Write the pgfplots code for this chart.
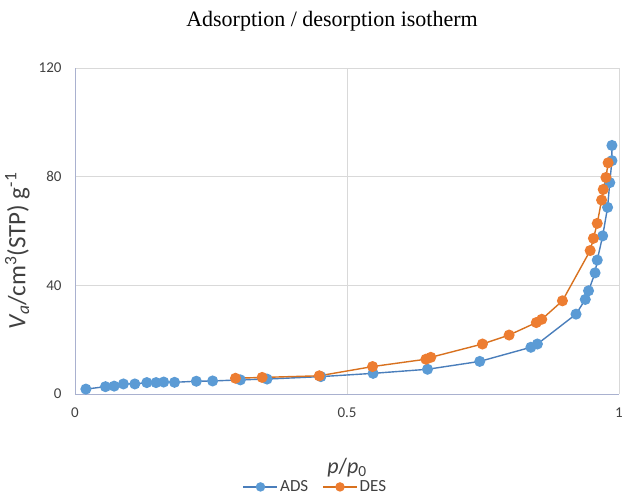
\documentclass[border=0pt]{standalone}
\usepackage{pgfplots}
\pgfplotsset{compat=1.18}
\usepackage{fontspec}
\setmainfont{Carlito}
\newfontfamily\titlefont{Liberation Serif}
\definecolor{adsblue}{HTML}{5B9BD5}
\definecolor{adsline}{HTML}{4A7EBB}
\definecolor{desorange}{HTML}{ED7D31}
\definecolor{desline}{HTML}{D8711F}
\definecolor{gridgray}{HTML}{D9D9D9}
\definecolor{axcol}{HTML}{A9B1CF}
\definecolor{txtgray}{HTML}{404040}
\begin{document}
\begin{tikzpicture}[x=1pt,y=1pt]
\path[use as bounding box] (0,0) rectangle (623,495);
\node[anchor=base, font=\titlefont\fontsize{22}{26}\selectfont] at (332,468) {Adsorption / desorption isotherm};
\begin{axis}[
  at={(75pt,101pt)}, anchor=south west,
  scale only axis, width=544pt, height=326pt,
  xmin=0, xmax=1, ymin=0, ymax=120,
  xtick={0,0.5,1}, ytick={0,40,80,120},
  xticklabels={0,0.5,1},
  grid=major, major grid style={gridgray, line width=0.9pt},
  axis x line*=bottom, axis y line*=left,
  x axis line style={-, axcol, line width=1pt},
  y axis line style={-, axcol, line width=1pt},
  major tick length=0pt,
  tick style={draw=none},
  /pgf/number format/assume math mode=true,
  tick label style={font=\fontsize{15}{18}\selectfont, text=txtgray},
  xticklabel style={yshift=-10pt},
  yticklabel style={xshift=-10pt},
  xlabel={\textit{p}/\textit{p}\textsubscript{0}},
  xlabel style={font=\fontsize{22}{26}\selectfont, text=txtgray, at={(axis description cs:0.5,0)}, anchor=base, yshift=-79pt},
  ylabel={\textit{V\textsubscript{a}}/cm\textsuperscript{3}(STP) g\textsuperscript{-1}},
  ylabel style={font=\fontsize{25}{30}\selectfont, text=txtgray, at={(axis description cs:-0.106,0.439)}, anchor=center},
  legend style={at={(axis description cs:0.442,-0.285)}, anchor=center, draw=none, fill=none,
    legend columns=2, font=\fontsize{17}{20}\selectfont, text=txtgray,
    /tikz/every even column/.append style={column sep=12pt}},
  legend cell align=left,
  legend image code/.code={\draw[mark repeat=2, mark phase=2, #1, mark size=4pt] plot coordinates {(0pt,0pt) (17pt,0pt) (34pt,0pt)};},
  every axis plot/.append style={line width=1.4pt, mark=*, mark size=4.8pt},
  clip=false,
]
\addplot[color=adsline, mark options={fill=adsblue, draw=adsblue}] coordinates {
(0.020,1.8) (0.056,2.7) (0.072,2.9) (0.089,3.7) (0.110,3.7) (0.132,4.2)
(0.149,4.2) (0.163,4.4) (0.183,4.3) (0.223,4.7) (0.253,4.8) (0.304,5.2)
(0.353,5.5) (0.452,6.4) (0.548,7.6) (0.648,9.1) (0.744,12.0) (0.838,17.2)
(0.850,18.4) (0.921,29.4) (0.938,34.8) (0.944,38.0) (0.956,44.6) (0.960,49.3)
(0.970,58.2) (0.979,68.7) (0.983,77.8) (0.987,85.9) (0.987,91.5)
};
\addlegendentry{ADS}
\addplot[color=desline, mark options={fill=desorange, draw=desorange}] coordinates {
(0.980,85.1) (0.976,79.7) (0.971,75.3) (0.968,71.4) (0.960,62.8) (0.953,57.3)
(0.947,52.8) (0.896,34.3) (0.858,27.5) (0.848,26.3) (0.798,21.7) (0.749,18.4)
(0.654,13.5) (0.645,12.8) (0.547,10.1) (0.449,6.7) (0.344,6.1) (0.295,5.8)
};
\addlegendentry{DES}
\end{axis}
\end{tikzpicture}
\end{document}
